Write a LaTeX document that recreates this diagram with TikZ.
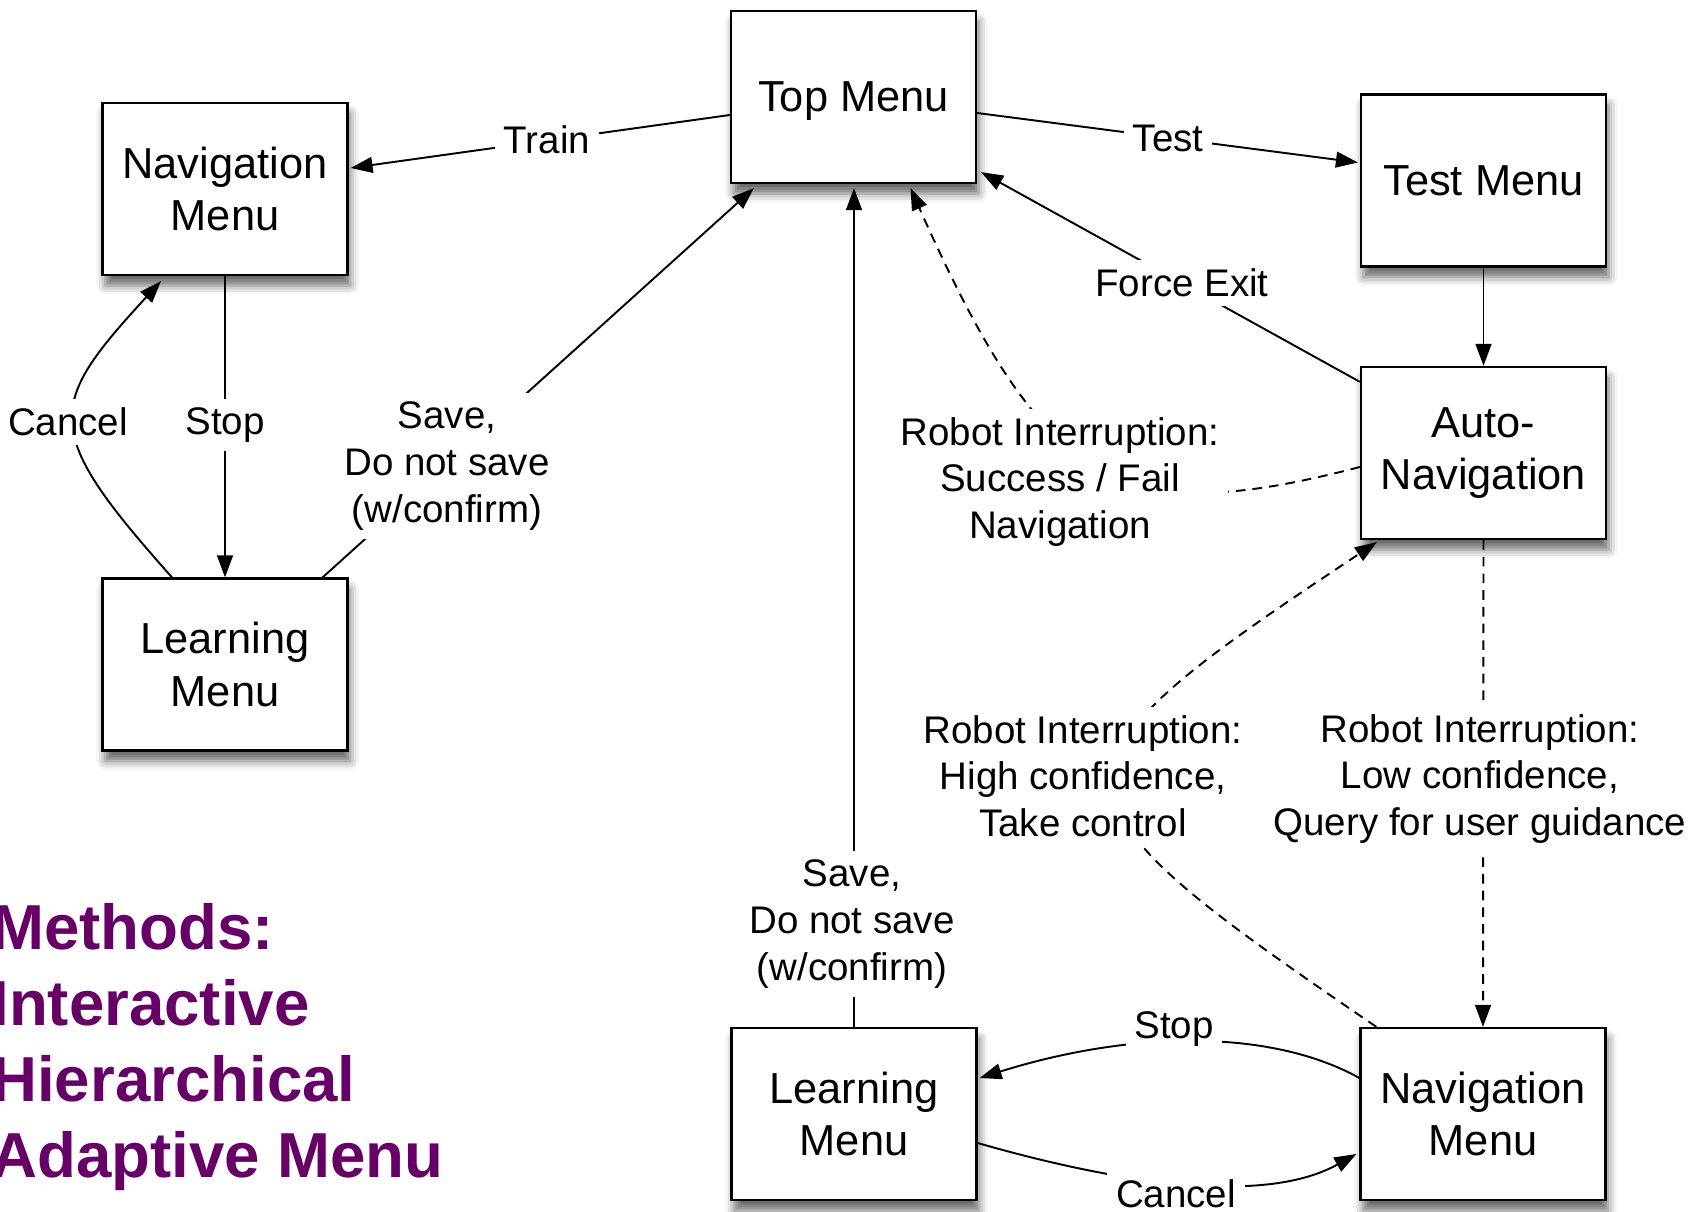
\documentclass[tikz,border=0pt]{standalone}
\usepackage{fontspec}
\setmainfont{Liberation Sans}
\usepackage{tikz}
\usetikzlibrary{arrows.meta,shadows.blur}
\definecolor{methodpurple}{RGB}{102,0,102}

\begin{document}
\begin{tikzpicture}[
  x=0.02cm, y=-0.02cm,
  menubox/.style={draw=black, line width=1.3pt, fill=white, align=center,
  minimum width=4.9cm, minimum height=3.44cm, inner sep=2pt,
  font=\fontsize{24.7}{30}\selectfont,
  blur shadow={shadow xshift=1.5pt, shadow yshift=-6pt, shadow blur radius=5pt, shadow opacity=60}},
  lbl/.style={fill=white, align=center, inner sep=5pt,
  font=\fontsize{21.9}{26.5}\selectfont},
  arrow/.style={-{Triangle[length=12.5pt,width=9pt]}, line width=1.1pt},
  dasharrow/.style={arrow, dash pattern=on 5.5pt off 4pt}
]
\useasboundingbox (0,0) rectangle (1704,1212);

% menus
\node[menubox, text depth=0pt] (topmenu) at (853.5,97) {Top Menu};
\node[menubox] (navL) at (225,189) {Navigation\\Menu};
\node[menubox] (learnL) at (225,664.5) {Learning\\Menu};
\node[menubox] (testmenu) at (1483.5,180.5) {Test Menu};
\node[menubox] (autonav) at (1483.5,453) {Auto-\\Navigation};
\node[menubox] (learnB) at (854,1114) {Learning\\Menu};
\node[menubox] (navB) at (1483,1114) {Navigation\\Menu};

% transitions
\draw[arrow] ([shift={(0,18)}]topmenu.west) -- ([shift={(2,-21)}]navL.east);
\draw[arrow] ([shift={(0,16)}]topmenu.east) -- ([shift={(-2,-18)}]testmenu.west);
\draw[arrow] ([shift={(0,16)}]autonav.north west) -- ([shift={(4,-12)}]topmenu.south east);
\draw[dasharrow] ([shift={(0,14)}]autonav.west) .. controls +(-242,63) and +(134,301) .. ([shift={(57,4)}]topmenu.south);
\draw[arrow] (navL.south) -- (learnL.north);
\draw[arrow] ([shift={(-53,0)}]learnL.north) .. controls +(-132,-148) and +(-115,125) .. ([shift={(-64,5)}]navL.south);
\draw[arrow] ([shift={(-26,0)}]learnL.north east) -- ([shift={(24,4)}]topmenu.south west);
\draw[arrow] (learnB.north) -- ([shift={(0,4)}]learnB.north |- topmenu.south);
\draw[arrow] (testmenu.south) -- (autonav.north);
\draw[dasharrow] ([shift={(17,0)}]navB.north west) .. controls +(-347,-237) and +(-350,232) .. ([shift={(17,2)}]autonav.south west);
\draw[dasharrow] (autonav.south) -- (navB.north);
\draw[arrow] ([shift={(0,-36)}]navB.west) .. controls +(-90,-50) and +(150,-47) .. ([shift={(2,-36)}]learnB.east);
\draw[arrow] ([shift={(0,29)}]learnB.east) .. controls +(150,43) and +(-90,50) .. ([shift={(-3,40)}]navB.west);

% labels
\node[lbl] (train) at (547,140) {Train};
\node[lbl] (test) at (1168,138) {Test};
\node[lbl] (forceexit) at (1182,283) {Force Exit};
\node[lbl] (successfail) at (1060,482) {Robot Interruption:\\Success / Fail\\Navigation};
\node[lbl] (stopL) at (225,425) {Stop};
\node[lbl] (cancelL) at (68,422) {Cancel};
\node[lbl] (saveL) at (447,466) {Save,\\Do not save\\(w/confirm)};
\node[lbl] (saveB) at (852,924) {Save,\\Do not save\\(w/confirm)};
\node[lbl] (highconf) at (1083,776) {Robot Interruption:\\High confidence,\\Take control};
\node[lbl] (lowconf) at (1480,779) {Robot Interruption:\\Low confidence,\\Query for user guidance};
\node[lbl] (stopB) at (1174,1029) {Stop};
\node[lbl] (cancelB) at (1176,1194) {Cancel};

% title
\node[anchor=west, align=left, inner sep=0pt, text=methodpurple,
  font=\fontsize{36.2}{43.4}\selectfont\bfseries] (methods) at (-9,1047)
  {Methods:\\Interactive\\Hierarchical\\Adaptive Menu};
\end{tikzpicture}
\end{document}
